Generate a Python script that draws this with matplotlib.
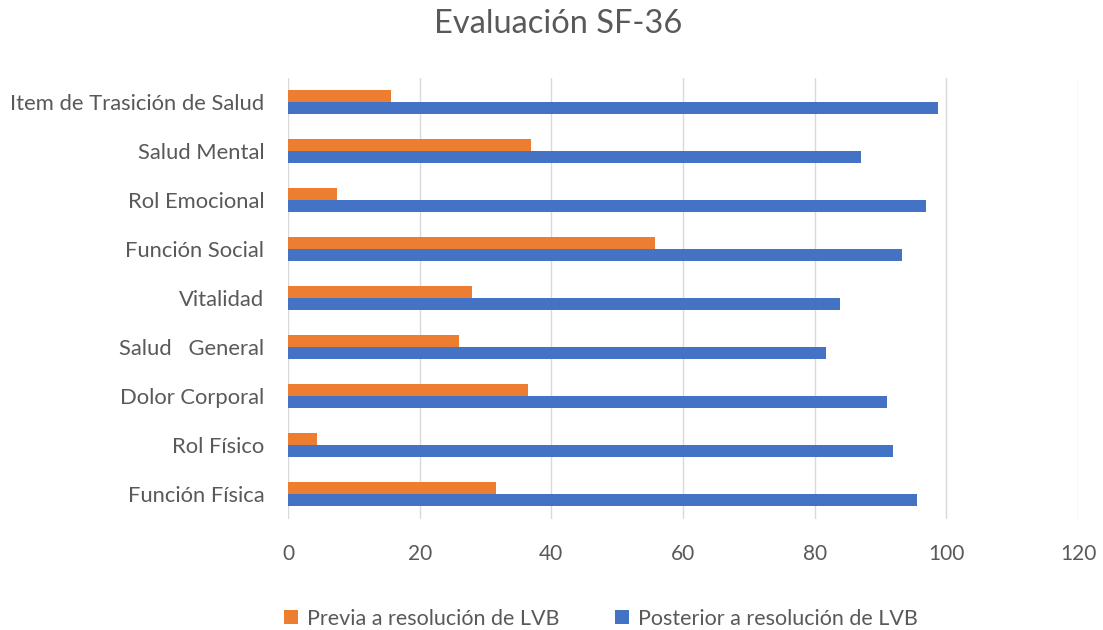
import matplotlib.pyplot as plt
import numpy as np

# %% data
categorias = ["Función Física", "Rol Físico", "Dolor Corporal", "Salud   General",
              "Vitalidad", "Función Social", "Rol Emocional", "Salud Mental",
              "Item de Trasición de Salud"]
previa = [31.6, 4.4, 36.5, 26.0, 27.9, 55.7, 7.5, 36.9, 15.7]
posterior = [95.5, 91.9, 91.0, 81.7, 83.9, 93.2, 96.9, 87.1, 98.8]
xticks = [0, 20, 40, 60, 80, 100, 120]

# %% plot
plt.rcParams['font.family'] = ['Lato', 'DejaVu Sans']
gris = "#595959"
fig = plt.figure(figsize=(11.03, 6.3), dpi=100)
ax = fig.add_axes([288/1103, 1 - 518.5/630, (1078 - 288)/1103, 441/630])

y = np.arange(len(categorias))
h = 0.255
ax.barh(y + h/2, previa, height=h, color="#ED7D31", label="Previa a resolución de LVB", zorder=3)
ax.barh(y - h/2, posterior, height=h, color="#4472C4", label="Posterior a resolución de LVB", zorder=3)

ax.set_xlim(0, 120)
ax.set_ylim(-0.5, len(categorias) - 0.5)
ax.set_xticks(xticks)
ax.set_yticks(y)
ax.set_yticklabels(categorias)
ax.tick_params(axis='both', length=0, labelcolor=gris)
ax.tick_params(axis='y', pad=17, labelsize=15.8)
ax.tick_params(axis='x', pad=18, labelsize=15)
ax.grid(axis='x', color="#d9d9d9", linewidth=1, zorder=0)
for s in ax.spines.values():
    s.set_visible(False)

fig.text(0.506, 0.962, "Evaluación SF-36", ha='center', va='center', fontsize=23.5, color=gris)
fig.legend(loc='center', bbox_to_anchor=(0.545, 0.018), ncol=2, frameon=False,
           fontsize=15.5, labelcolor=gris, handlelength=0.65, handleheight=0.65,
           handletextpad=0.4, columnspacing=2.6)

fig.savefig("out.png", dpi=100)
